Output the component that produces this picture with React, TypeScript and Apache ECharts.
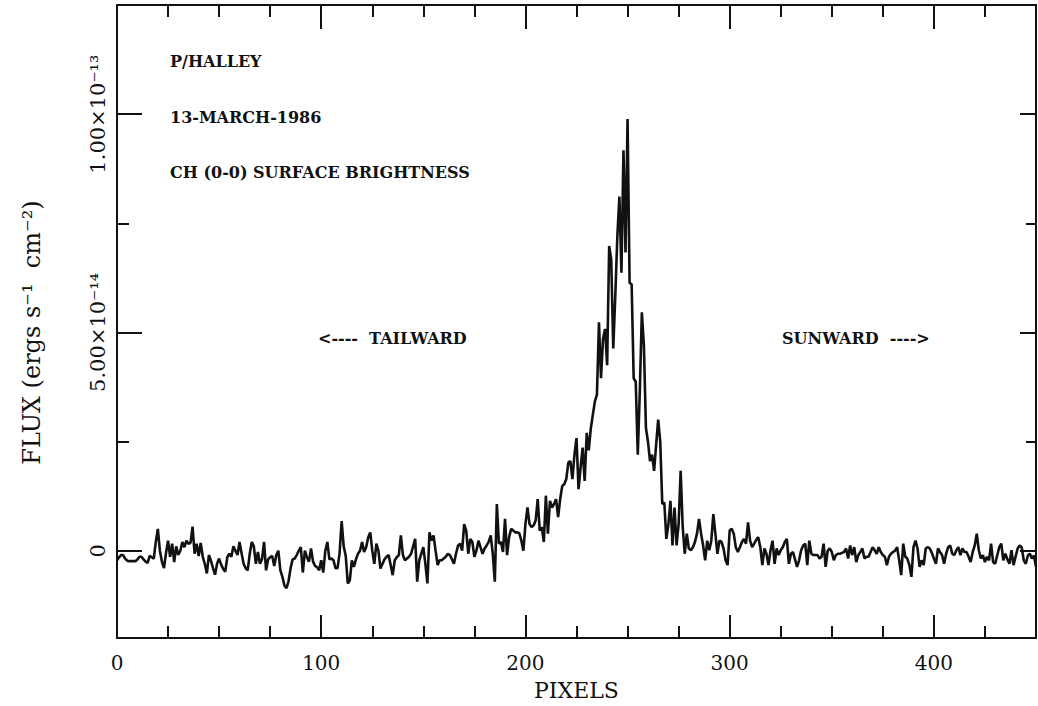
import React, { useEffect, useRef } from "react";
import * as echarts from "echarts";

// Flux in units of 1e-14 erg s^-1 cm^-2, one value per pixel (pixel = array index)
const FLUX_TAIL = [
  -0.22, -0.15, -0.1, -0.1, -0.18, -0.23, -0.24, -0.24, -0.24, -0.24,
  -0.2, -0.14, -0.14, -0.2, -0.25, -0.28, -0.12, -0.15, -0.18, 0.2,
  0.5, 0.0, -0.25, -0.4, -0.05, 0.23, -0.14, 0.16, -0.26, 0.1,
  -0.1, 0.0, 0.2, 0.08, 0.23, 0.16, 0.18, 0.55, -0.07, 0.16,
  -0.12, 0.18, -0.14, -0.3, -0.52, -0.1, -0.23, -0.4, -0.55, -0.3,
  -0.18, -0.32, -0.42, -0.48, -0.15, -0.07, -0.14, 0.1, 0.0, -0.1,
  0.2, -0.06, -0.3, -0.4, -0.45, -0.07, 0.2, 0.1, -0.3, -0.03,
  -0.3, -0.2, 0.2, -0.45, -0.2, -0.15, -0.12, -0.35, -0.1, 0.0,
  -0.45, -0.6, -0.8, -0.86, -0.7, -0.4, -0.2, -0.18, -0.1, 0.0,
  0.08, -0.5, 0.0, -0.15, -0.25, 0.05, -0.25, -0.35, -0.38, -0.45,
  -0.22, -0.5, 0.0, 0.2, -0.2, -0.18, -0.22, -0.4, -0.4, -0.05,
  0.68, 0.1, -0.12, -0.75, -0.68, -0.22, -0.37, -0.2, -0.07, 0.0,
  0.2, -0.03, 0.08, 0.3, 0.42, 0.0, -0.3, 0.16, 0.0, -0.41,
  -0.3, -0.2, -0.14, -0.1, -0.33, -0.56, -0.22, -0.15, -0.1, 0.35,
  -0.1, -0.22, -0.18, -0.14, -0.07, 0.1, 0.27, -0.71, -0.22, -0.07,
];
const FLUX_RISE = [
  0.08, -0.3, -0.75, 0.42, 0.23, 0.35, 0.0, -0.33, -0.22, -0.22,
  -0.18, -0.14, -0.07, -0.1, -0.2, -0.3, -0.07, 0.12, 0.16, 0.0,
  0.61, 0.46, -0.07, 0.27, 0.2, -0.14, 0.0, 0.23, 0.08, -0.07,
  0.05, 0.12, 0.2, 0.35, -0.07, -0.71, 1.07, 0.16, 0.2, -0.03,
  0.73, -0.1, 0.31, 0.5, 0.46, 0.42, 0.42, 0.4, 0.23, 0.0,
  0.61, 0.99, 0.61, 0.54, 0.58, 0.69, 1.18, 0.46, 0.54, 0.2,
  1.26, 0.39, 1.14, 0.99, 1.07, 1.18, 0.77, 1.18, 1.48, 1.52,
  1.64, 2.02, 2.05, 1.64, 2.2, 2.58, 1.41, 1.9, 2.36, 1.6,
  2.7, 2.3, 2.8, 3.11, 3.42, 3.57, 5.23, 3.95, 4.86, 5.08,
  4.25, 6.98, 6.67, 4.63, 5.84, 7.2, 8.11, 6.37, 9.17, 6.83,
];
const FLUX_FALL = [
  9.89, 6.14, 6.1, 3.95, 3.87, 2.2, 3.64, 5.46, 4.7, 2.81,
  2.5, 2.05, 2.2, 1.83, 2.43, 3.0, 2.5, 1.07, 1.1, 0.27,
  0.6, 1.14, 0.12, 0.99, 0.12, 0.6, 1.83, 0.55, -0.07, 0.39,
  0.05, 0.01, 0.08, 0.2, 0.39, 0.73, 0.39, 0.12, -0.22, 0.23,
  0.01, 0.23, 0.84, 0.39, -0.07, 0.23, 0.2, 0.05, -0.22, -0.33,
  0.46, 0.5, 0.39, 0.08, -0.03, 0.08, 0.2, 0.27, 0.16, 0.65,
  0.23, 0.08, 0.16, 0.25, 0.31, 0.08, -0.33, 0.05, -0.07, -0.33,
  0.01, 0.23, -0.3, 0.05, -0.1, 0.01, 0.08, 0.2, 0.27, -0.3,
  -0.07, -0.03, -0.2, -0.37, -0.22, 0.01, 0.12, 0.16, -0.33, 0.23,
  -0.07, -0.1, -0.1, -0.1, -0.18, -0.14, 0.16, -0.37, 0.0, 0.05,
];
const FLUX_SUN = [
  -0.03, -0.22, -0.1, -0.07, -0.07, -0.05, -0.03, 0.05, -0.18, 0.12,
  -0.1, 0.08, -0.26, -0.1, -0.03, 0.05, -0.18, -0.14, -0.14, -0.03,
  0.08, 0.01, -0.07, 0.08, -0.03, -0.1, -0.14, -0.33, -0.14, -0.07,
  -0.03, 0.0, 0.08, -0.22, -0.56, 0.16, -0.14, -0.18, -0.33, -0.6,
  0.08, 0.23, 0.05, -0.37, -0.22, -0.33, 0.05, 0.08, 0.05, -0.05,
  -0.18, -0.3, 0.05, -0.03, -0.1, -0.3, -0.07, 0.08, 0.12, -0.07,
  -0.1, 0.01, 0.08, -0.1, 0.05, -0.03, -0.03, -0.14, -0.26, -0.03,
  0.12, 0.39, 0.01, -0.18, -0.1, -0.26, -0.14, -0.22, 0.16, -0.26,
  -0.3, -0.11, 0.08, 0.16, -0.22, -0.07, -0.2, -0.3, 0.01, -0.33,
  -0.14, 0.05, 0.12, 0.08, -0.22, -0.3, -0.11, -0.07, -0.18, -0.11,
  -0.37,
];

const X_MIN = 0;
const X_MAX = 450;
const Y_MIN = -2;
const Y_MAX = 12.5;
const X_MAJOR = [0, 100, 200, 300, 400];
const X_MINOR = [25, 50, 75, 125, 150, 175, 225, 250, 275, 325, 350, 375, 425];
const Y_MAJOR = [0, 5, 10];
const Y_MINOR = [2.5, 7.5];
const Y_TICK_LABELS: Record<number, string> = {
  0: "0",
  5: "5.00×10⁻¹⁴",
  10: "1.00×10⁻¹³",
};
const X_NAME = "PIXELS";
const Y_NAME = "FLUX (ergs s⁻¹  cm⁻²)";
const NOTES = ["P/HALLEY", "13-MARCH-1986", "CH (0-0) SURFACE BRIGHTNESS"];
const DIRECTIONS = ["<----  TAILWARD", "SUNWARD  ---->"];

const FONT = "DejaVu Serif";
const INK = "#111";

export default function App() {
  const ref = useRef<HTMLDivElement>(null);
  useEffect(() => {
    if (!ref.current) return;
    const chart = echarts.init(ref.current, undefined, { renderer: "svg" });
    const flux = [...FLUX_TAIL, ...FLUX_RISE, ...FLUX_FALL, ...FLUX_SUN];
    const data = flux.map((v, i) => [i, v]);

    const line = { lineStyle: { color: INK, width: 2 } };
    const xBase = (position: string, ticks: number[], len: number, withLine: boolean, withLabels: boolean) => ({
      type: "value",
      position,
      min: X_MIN,
      max: X_MAX,
      axisLine: { show: withLine, onZero: false, ...line },
      splitLine: { show: false },
      axisTick: { show: true, inside: true, length: len, customValues: ticks, ...line },
      axisLabel: withLabels
        ? { show: true, customValues: X_MAJOR, fontSize: 20, fontFamily: FONT, color: INK, margin: 15 }
        : { show: false },
    });
    const yBase = (position: string, ticks: number[], len: number, withLine: boolean, withLabels: boolean) => ({
      type: "value",
      position,
      min: Y_MIN,
      max: Y_MAX,
      axisLine: { show: withLine, onZero: false, ...line },
      splitLine: { show: false },
      axisTick: { show: true, inside: true, length: len, customValues: ticks, ...line },
      axisLabel: withLabels
        ? {
            show: true,
            customValues: Y_MAJOR,
            rotate: 90,
            fontSize: 21,
            fontFamily: FONT,
            color: INK,
            margin: 9,
            formatter: (v: number) => Y_TICK_LABELS[v] ?? "",
          }
        : { show: false },
    });

    const x0: any = xBase("bottom", X_MAJOR, 23, true, true);
    x0.name = X_NAME;
    x0.nameLocation = "middle";
    x0.nameGap = 41;
    x0.nameTextStyle = { fontSize: 22, fontFamily: FONT, color: INK };
    const y0: any = yBase("left", Y_MAJOR, 25, true, true);
    y0.name = Y_NAME;
    y0.nameLocation = "middle";
    y0.nameGap = 73;
    y0.nameTextStyle = { fontSize: 24, fontFamily: FONT, color: INK, padding: [0, 22, 0, 0] };

    const noteStyle = { fontSize: 16, fontWeight: "bold", fontFamily: FONT, fill: INK, verticalAlign: "middle" };

    chart.setOption({
      animation: false,
      backgroundColor: "#fff",
      grid: { left: 117, right: 2, top: 5, bottom: 60, containLabel: false },
      xAxis: [
        x0,
        xBase("bottom", X_MINOR, 12, false, false),
        xBase("top", X_MAJOR, 24, true, false),
        xBase("top", X_MINOR, 12, false, false),
      ],
      yAxis: [
        y0,
        yBase("left", Y_MINOR, 12, false, false),
        yBase("right", Y_MAJOR, 16, true, false),
        yBase("right", Y_MINOR, 10, false, false),
      ],
      series: [
        {
          type: "line",
          xAxisIndex: 0,
          yAxisIndex: 0,
          data,
          showSymbol: false,
          symbol: "none",
          lineStyle: { color: INK, width: 2.6 },
          clip: true,
        },
      ],
      graphic: [
        { type: "text", x: 170, y: 61, style: { text: NOTES[0], ...noteStyle } },
        { type: "text", x: 170, y: 117, style: { text: NOTES[1], ...noteStyle } },
        { type: "text", x: 170, y: 172, style: { text: NOTES[2], ...noteStyle } },
        { type: "text", x: 318, y: 338, style: { text: DIRECTIONS[0], ...noteStyle } },
        { type: "text", x: 782, y: 338, style: { text: DIRECTIONS[1], ...noteStyle } },
      ],
    });
    return () => chart.dispose();
  }, []);
  return (
    <div
      ref={ref}
      style={{ position: "absolute", left: 0, top: 0, width: 1038, height: 706, background: "#fff" }}
    />
  );
}
